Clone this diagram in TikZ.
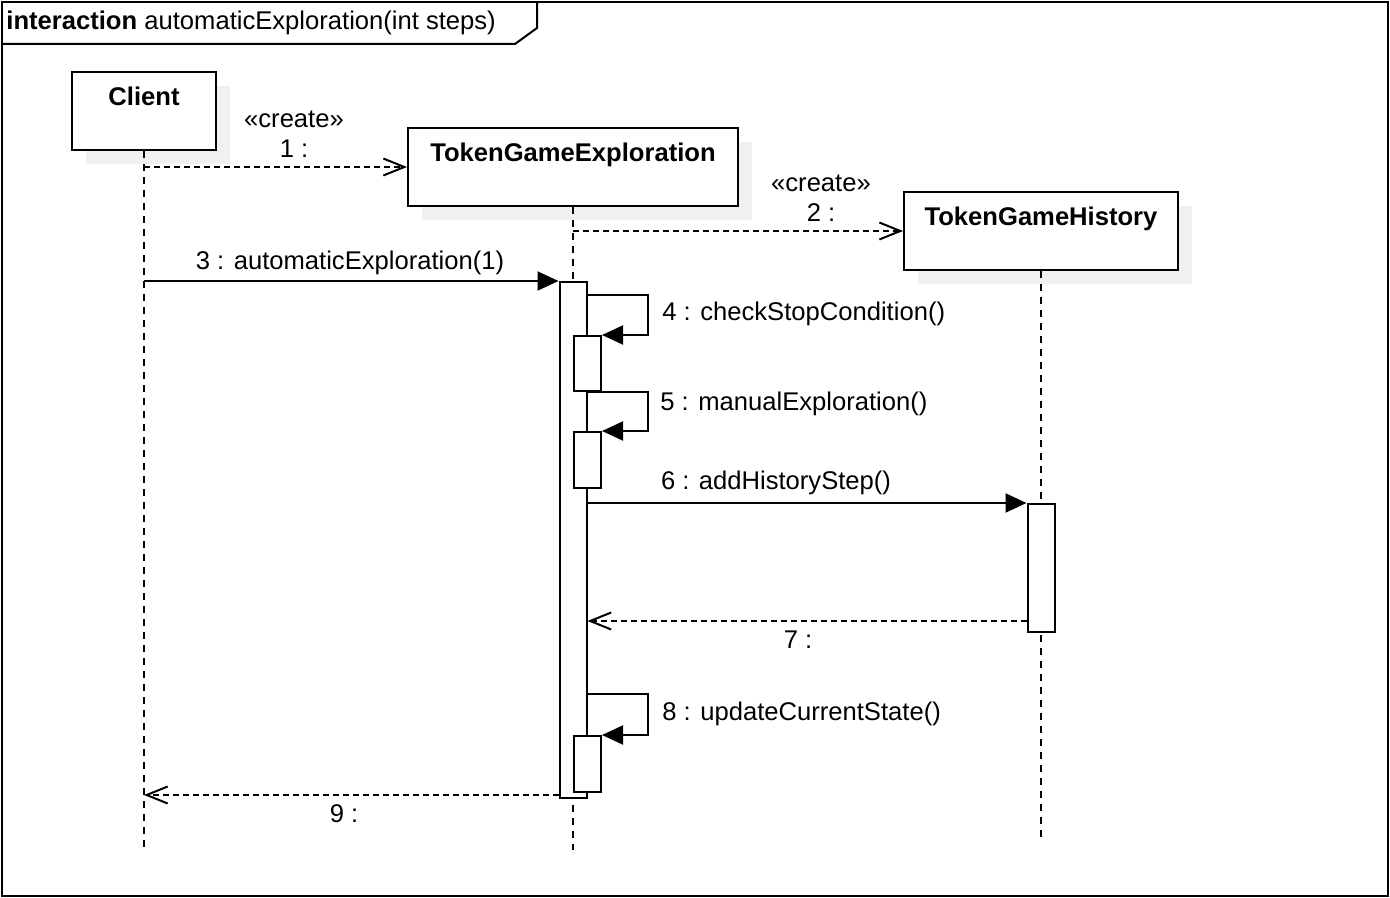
\documentclass[tikz,border=0pt]{standalone}
\usepackage{fontspec}
\setmainfont{Liberation Sans}
\usetikzlibrary{arrows.meta,shadows}
\newcommand\diagfont{\fontsize{12.8}{15}\selectfont}
\tikzset{
  head/.style={draw, line width=1pt, fill=white, inner xsep=0pt, inner ysep=0pt,
    text height=17pt, text depth=22pt, font=\diagfont\bfseries, anchor=north west,
    general shadow={fill=black!6, shadow xshift=7pt, shadow yshift=-7pt}},
  act/.style={draw, line width=1pt, fill=white, inner sep=0pt, minimum width=13.5pt, anchor=north},
  lifeline/.style={line width=1pt, dash pattern=on 3.5pt off 3pt},
  call/.style={line width=1pt, -{Triangle[length=10.5pt,width=9.5pt]}},
  reply/.style={line width=1pt, dash pattern=on 3pt off 2pt, -{Straight Barb[length=10.5pt,width=8.5pt]}},
  lbl/.style={inner sep=0pt, align=center},
}
\begin{document}
\begin{tikzpicture}[x=0.5pt, y=-0.5pt, font=\diagfont]
      \useasboundingbox (0,0) rectangle (1390,898);
      % frame
      \draw[line width=1pt] (2,2) rectangle (1388,896);
      \draw[line width=1pt] (2,44) -- (515,44) -- (537,28) -- (537,2);
      \node[anchor=base west, inner sep=0pt] (title) at (6,30)
        {\textbf{interaction} automaticExploration(int steps)};
      % lifelines
      \node[head, minimum width=72pt] (client) at (71,71) {Client};
      \node[head, minimum width=165pt] (tge) at (407,127) {TokenGameExploration};
      \node[head, minimum width=137pt] (tgh) at (903,191) {TokenGameHistory};
      \coordinate (clientEnd) at (client.south |- 0,852);
      \coordinate (tgeEnd) at (tge.south |- 0,850);
      \coordinate (tghEnd) at (tgh.south |- 0,838);
      \begin{scope}[lifeline]
        \draw (client.south) -- (clientEnd);
        \draw (tge.south) -- (tgeEnd);
        \draw (tgh.south) -- (tghEnd);
      \end{scope}
      % activations
      \node[act, minimum height=258pt] (actE) at (tge.south |- 0,281) {};
      \node[act, minimum height=27.5pt] (act4) at (actE.east |- 0,335) {};
      \node[act, minimum height=28pt] (act5) at (actE.east |- 0,431) {};
      \node[act, minimum height=28pt] (act8) at (actE.east |- 0,735) {};
      \node[act, minimum height=64pt] (actH) at (tgh.south |- 0,503) {};
      % messages
      \draw[reply] (client.south |- tge.west) -- (tge.west);
      \draw[reply] (tge.south |- tgh.west) -- (tgh.west);
      \draw[call] (client.south |- actE.north west) -- (actE.north west);
      \draw[call] ([yshift=20pt]act4.north -| actE.east) -- ++(60,0) |- (act4.north east);
      \draw[call] (act4.south -| actE.east) -- ++(60,0) |- (act5.north east);
      \draw[call] (actE.east |- actH.north west) -- (actH.north west);
      \coordinate (r7) at ([yshift=6pt]actH.south west);
      \draw[reply] (r7) -- (r7 -| actE.east);
      \draw[call] ([yshift=20.5pt]act8.north -| actE.east) -- ++(60,0) |- (act8.north east);
      \coordinate (r9) at ([yshift=2pt]actE.south west);
      \draw[reply] (r9) -- (r9 -| client.south);
      % labels
      \node[lbl] (l1) at (294,134) {«create»\\1 :};
      \node[lbl] (l2) at (821,198) {«create»\\2 :};
      \node[lbl] (l3) at (350,263) {3 : automaticExploration(1)};
      \node[lbl, anchor=west] (l4) at (662,314) {4 : checkStopCondition()};
      \node[lbl, anchor=west] (l5) at (660,404) {5 : manualExploration()};
      \node[lbl] (l6) at (776,483) {6 : addHistoryStep()};
      \node[lbl] (l7) at (798,640) {7 :};
      \node[lbl, anchor=west] (l8) at (662,714) {8 : updateCurrentState()};
      \node[lbl] (l9) at (344,814) {9 :};
    \end{tikzpicture}
\end{document}
